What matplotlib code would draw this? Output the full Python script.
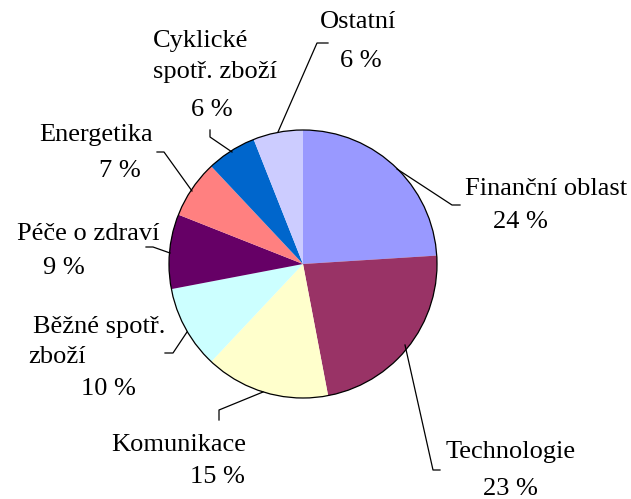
import matplotlib.pyplot as plt
from matplotlib.patches import Circle

labels = ['Finanční oblast', 'Technologie', 'Komunikace', 'Běžné spotř. zboží',
          'Péče o zdraví', 'Energetika', 'Cyklické spotř. zboží', 'Ostatní']
shares = [24, 23, 15, 10, 9, 7, 6, 6]
colors = ['#9999FF', '#993366', '#FFFFCC', '#CCFFFF',
          '#660066', '#FF8080', '#0066CC', '#CCCCFF']

W, H = 631, 499
plt.rcParams['font.family'] = ['Liberation Serif', 'DejaVu Serif']

fig = plt.figure(figsize=(W / 100, H / 100), dpi=100)
ax = fig.add_axes([0, 0, 1, 1])

cx, cy, r = 303, H - 264, 134
ax.pie(shares, colors=colors, startangle=90, counterclock=False,
       center=(cx, cy), radius=r, wedgeprops=dict(linewidth=0))
ax.add_patch(Circle((cx, cy), r, fill=False, edgecolor='black', linewidth=0.9))

ax.set_xlim(0, W)
ax.set_ylim(0, H)
ax.set_aspect('equal')
ax.axis('off')

# text lines per slice: (text, x, y) in pixels from top-left
texts = [
    ('Finanční oblast', 546, 189), ('24 %', 520, 222),
    ('Technologie', 511, 452), ('23 %', 510, 489),
    ('Komunikace', 179, 445), ('15 %', 217, 477),
    ('Běžné spotř.', 99, 327), ('zboží', 57, 357), ('10 %', 108, 389),
    ('Péče o zdraví', 88, 234), ('9 %', 64, 268),
    ('Energetika', 96, 135), ('7 %', 120, 171),
    ('Cyklické', 201, 41), ('spotř. zboží', 215, 72), ('6 %', 212, 110),
    ('Ostatní', 358, 22), ('6 %', 361, 61),
]
for t, x, y in texts:
    ax.text(x, H - y, t, ha='center', va='center', fontsize=19)

# leader lines
leaders = [
    [(397, 169), (452, 205), (460, 205)],
    [(405, 345), (433, 470), (440, 470)],
    [(263, 392), (219, 410), (219, 420)],
    [(187, 332), (173, 353), (165, 353)],
    [(170, 253), (153, 247), (146, 247)],
    [(192, 191), (164, 152), (157, 152)],
    [(232, 152), (210, 137), (210, 130)],
    [(278, 132), (317, 43), (328, 43)],
]
for pts in leaders:
    ax.plot([p[0] for p in pts], [H - p[1] for p in pts], color='black', linewidth=0.9)

fig.savefig('out.png', dpi=100)
